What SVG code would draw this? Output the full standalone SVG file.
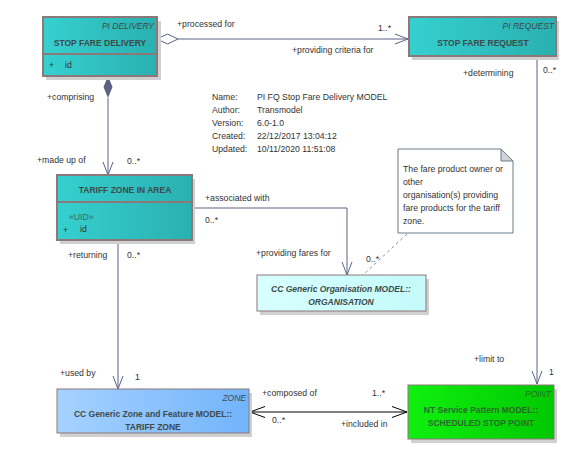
<svg xmlns="http://www.w3.org/2000/svg" width="569" height="469" viewBox="0 0 569 469">
<defs>
<linearGradient id="teal" x1="0" y1="0" x2="1" y2="0"><stop offset="0" stop-color="#36d0d0"/><stop offset="1" stop-color="#2ab0b0"/></linearGradient>
<linearGradient id="blue" x1="0" y1="0" x2="1" y2="0"><stop offset="0" stop-color="#a6d2ff"/><stop offset="1" stop-color="#72b4fb"/></linearGradient>
<linearGradient id="green" x1="0" y1="0" x2="1" y2="0"><stop offset="0" stop-color="#10f010"/><stop offset="1" stop-color="#00c800"/></linearGradient>
<linearGradient id="cyan" x1="0" y1="0" x2="1" y2="0"><stop offset="0" stop-color="#d8ffff"/><stop offset="1" stop-color="#c4fafa"/></linearGradient>
<marker id="open" markerWidth="14" markerHeight="12" refX="13" refY="6" orient="auto" markerUnits="userSpaceOnUse"><path d="M0,1 L13,6 L0,11" fill="none" stroke="#5a6384" stroke-width="1"/></marker>
<marker id="openk" markerWidth="16" markerHeight="12" refX="15" refY="6" orient="auto-start-reverse" markerUnits="userSpaceOnUse"><path d="M0,0.5 L15,6 L0,11.5" fill="none" stroke="#000" stroke-width="1"/></marker>
</defs>
<style>
text{font-family:"Liberation Sans",Arial,sans-serif;font-size:8.7px;fill:#333}
.t{font-size:8.5px;font-weight:bold;fill:#3c4a4a;text-anchor:middle}
.st{font-size:8.5px;font-style:italic;fill:#3c4a4a;text-anchor:end}
.box{stroke:#8c7878;stroke-width:2}
.sh{fill:#d0d0d0}
.c{fill:none;stroke:#5a6384;stroke-width:1}
.attr{fill:#333}
</style>
<g id="connectors">
<path class="c" d="M178,39 L408,39" marker-end="url(#open)"/>
<path d="M157,39 L167.5,34 L178,39 L167.5,44 Z" fill="#fff" stroke="#5a6384"/>
<path class="c" d="M108,98 L108,175" marker-end="url(#open)"/>
<path d="M108,76 L112.5,87 L108,98 L103.5,87 Z" fill="#5a6384"/>
<path class="c" d="M537,56 L537,384" marker-end="url(#open)"/>
<path class="c" d="M192,208 L347,208 L347,275" marker-end="url(#open)"/>
<path class="c" d="M118,240 L118,389" marker-end="url(#open)"/>
<path d="M250,412 L407,412" fill="none" stroke="#000" stroke-width="1.2" marker-start="url(#openk)" marker-end="url(#openk)"/>
<path d="M407,234 L363,275" fill="none" stroke="#8090a8" stroke-width="1" stroke-dasharray="3,3"/>
<text x="177" y="27">+processed for</text>
<text x="378" y="31">1..*</text>
<text x="292" y="53">+providing criteria for</text>
<text x="463" y="76">+determining</text>
<text x="543" y="73">0..*</text>
<text x="47" y="100">+comprising</text>
<text x="37" y="163">+made up of</text>
<text x="127" y="164">0..*</text>
<text x="205" y="201">+associated with</text>
<text x="205" y="223">0..*</text>
<text x="256" y="256">+providing fares for</text>
<text x="366" y="262">0..*</text>
<text x="68" y="258">+returning</text>
<text x="127" y="258">0..*</text>
<text x="60" y="376">+used by</text>
<text x="135" y="380">1</text>
<text x="474" y="362">+limit to</text>
<text x="549" y="375">1</text>
<text x="262" y="396">+composed of</text>
<text x="372" y="396">1..*</text>
<text x="272" y="423">0..*</text>
<text x="341" y="427">+included in</text>
</g>
<g id="meta">
<text x="212" y="100">Name:</text><text x="257" y="100">PI FQ Stop Fare Delivery MODEL</text>
<text x="212" y="113">Author:</text><text x="257" y="113">Transmodel</text>
<text x="212" y="126">Version:</text><text x="257" y="126">6.0-1.0</text>
<text x="212" y="139">Created:</text><text x="257" y="139">22/12/2017 13:04:12</text>
<text x="212" y="152">Updated:</text><text x="257" y="152">10/11/2020 11:51:08</text>
</g>
<g id="stop-fare-delivery">
<rect class="sh" x="46" y="21" width="115" height="59"/>
<rect class="box" x="43" y="17" width="114" height="59" fill="url(#teal)"/>
<line class="box" x1="43" y1="54" x2="157" y2="54"/>
<text class="st" x="154" y="29">PI DELIVERY</text>
<text class="t" x="100" y="46">STOP FARE DELIVERY</text>
<text class="attr" x="49" y="68">+</text><text class="attr" x="65" y="68">id</text>
</g>
<g id="stop-fare-request">
<rect class="sh" x="412" y="21" width="147" height="39"/>
<rect class="box" x="409" y="17" width="147" height="39" fill="url(#teal)"/>
<text class="st" x="554" y="29">PI REQUEST</text>
<text class="t" x="483" y="46">STOP FARE REQUEST</text>
</g>
<g id="tariff-zone-in-area">
<rect class="sh" x="60" y="179" width="135" height="65"/>
<rect class="box" x="57" y="175" width="135" height="65" fill="url(#teal)"/>
<line class="box" x1="57" y1="202" x2="192" y2="202"/>
<text class="t" x="125" y="193">TARIFF ZONE IN AREA</text>
<text x="69" y="220" style="fill:#336b5e">«UID»</text>
<text class="attr" x="63" y="233">+</text><text class="attr" x="80" y="232">id</text>
</g>
<g id="organisation">
<rect class="sh" x="260" y="279" width="169" height="36"/>
<rect x="257" y="275" width="169" height="36" fill="url(#cyan)" stroke="#8c7878" stroke-width="1"/>
<text class="t" x="341" y="292" font-style="italic">CC Generic Organisation MODEL::</text>
<text class="t" x="341" y="305" font-style="italic">ORGANISATION</text>
</g>
<g id="note">
<path d="M398,149 L501,149 L513,161 L513,233 L398,233 Z" fill="#fff" stroke="#6a7a8a" stroke-width="1"/>
<path d="M501,149 L501,161 L513,161 Z" fill="#d0d4d8" stroke="#6a7a8a" stroke-width="1"/>
<text x="403" y="172">The fare product owner or</text>
<text x="403" y="185">other</text>
<text x="403" y="198">organisation(s)  providing</text>
<text x="403" y="211">fare products for the tariff</text>
<text x="403" y="224">zone.</text>
</g>
<g id="tariff-zone">
<rect class="sh" x="60" y="393" width="192" height="44"/>
<rect x="57" y="389" width="192" height="44" fill="url(#blue)" stroke="#8c7878" stroke-width="1"/>
<text class="st" x="246" y="401">ZONE</text>
<text class="t" x="153" y="417">CC Generic Zone and Feature MODEL::</text>
<text class="t" x="153" y="430">TARIFF ZONE</text>
</g>
<g id="scheduled-stop-point">
<rect class="sh" x="411" y="389" width="146" height="54"/>
<rect x="408" y="385" width="146" height="54" fill="url(#green)" stroke="#8c7878" stroke-width="1"/>
<text class="st" x="551" y="397" style="fill:#2a6a2a">POINT</text>
<text class="t" x="481" y="413" style="fill:#2a6a2a">NT Service Pattern MODEL::</text>
<text class="t" x="481" y="426" style="fill:#2a6a2a">SCHEDULED STOP POINT</text>
</g>
</svg>
